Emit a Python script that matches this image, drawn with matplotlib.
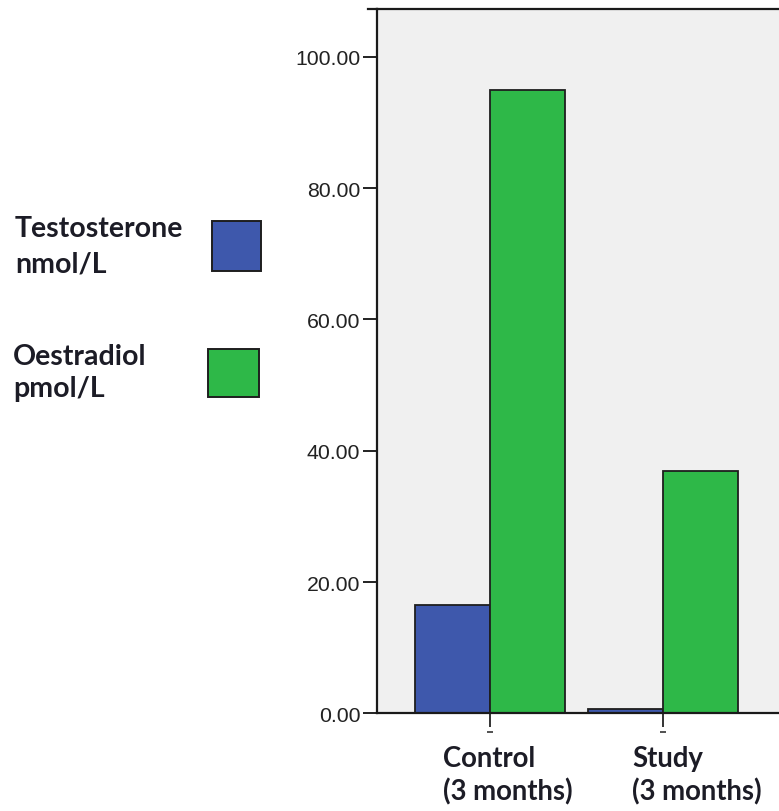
import matplotlib
matplotlib.use("Agg")
import matplotlib.pyplot as plt
from matplotlib.patches import Rectangle
from matplotlib.lines import Line2D
import matplotlib.transforms as mtransforms
import numpy as np

# Data
groups = ["Control", "Study"]
group_sub = ["(3 months)", "(3 months)"]
series_names = ["Testosterone\nnmol/L", "Oestradiol\npmol/L"]
testosterone = [16.5, 0.65]
oestradiol = [94.9, 36.9]
yticks = [0, 20, 40, 60, 80, 100]

blue = "#3E58AC"
green = "#2EB848"
edge = "#1e1e1e"
text_col = "#1c1c26"

W, H = 779, 812
fig = plt.figure(figsize=(W / 100, H / 100), dpi=100)

def fx(px):
    return px / W

def fy(py):
    return 1 - py / H

ax_left, ax_right, ax_top, ax_bottom = 377, 779, 10, 714.3
ax = fig.add_axes([fx(ax_left), fy(ax_bottom), fx(ax_right - ax_left),
                   (ax_bottom - ax_top) / H])
ax.set_facecolor("#F0F0F0")

x = np.arange(len(groups))
w = 0.432
ax.bar(x - w / 2, testosterone, w, color=blue, edgecolor=edge, linewidth=1.3, zorder=2)
ax.bar(x + w / 2, oestradiol, w, color=green, edgecolor=edge, linewidth=1.3, zorder=2)

ax.set_xlim(-0.651, 1.666)
ax.set_ylim(0, 107.3)

ax.set_yticks(yticks)
ax.set_yticklabels([f"{v:.2f}" for v in yticks], fontsize=15.3,
                   family="Liberation Sans", color="#222222")
ax.tick_params(axis="y", length=10, width=1.4, pad=2, color="#222222")
ax.set_xticks(x)
ax.set_xticklabels([])
ax.tick_params(axis="x", length=10, width=1.4, color="#333333")

for side in ["left", "top", "bottom"]:
    ax.spines[side].set_linewidth(1.6)
    ax.spines[side].set_color("#1a1a1a")
ax.spines["right"].set_visible(False)

# top rule extends a little past the y axis
ax.add_line(Line2D([-9 / (ax_right - ax_left), 0], [1, 1], transform=ax.transAxes,
                   color="#1a1a1a", linewidth=1.6, clip_on=False))

# small dashes under the category ticks
blend = mtransforms.blended_transform_factory(ax.transData, fig.transFigure)
ax.plot(x, [fy(733)] * len(x), transform=blend, marker="_", markersize=4,
        markeredgewidth=1.2, color="#333333", linestyle="none", clip_on=False)

# category labels
cat_font = dict(family="Lato", weight="bold", fontsize=19.8, color=text_col)
for xi, name, sub, lx in zip(x, groups, group_sub, [443, 632]):
    fig.text(fx(lx), fy(767), name, ha="left", va="baseline", **cat_font)
    fig.text(fx(lx), fy(800), sub, ha="left", va="baseline", **cat_font)

# legend
leg_font = dict(family="Lato", weight="bold", fontsize=20.5, color=text_col)
leg_items = [
    (series_names[0], blue, 15, (237, 272), (212, 222, 49, 50)),
    (series_names[1], green, 13, (365, 397), (208, 350, 51, 48)),
]
for label, col, tx, baselines, (rx, ry, rw, rh) in leg_items:
    for line, by in zip(label.split("\n"), baselines):
        fig.text(fx(tx), fy(by), line, ha="left", va="baseline", **leg_font)
    fig.patches.append(Rectangle((fx(rx), fy(ry + rh)), rw / W, rh / H,
                                 transform=fig.transFigure, facecolor=col,
                                 edgecolor=edge, linewidth=1.4))

fig.savefig("out.png", dpi=100)
